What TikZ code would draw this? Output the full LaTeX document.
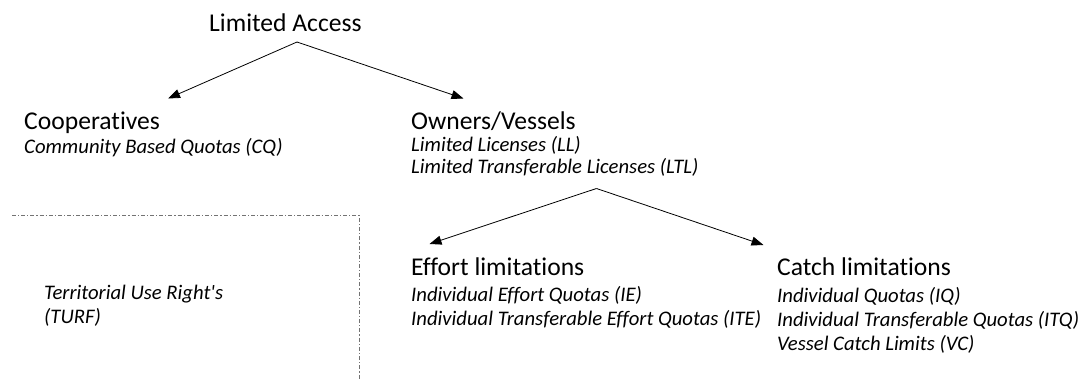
\documentclass[tikz,border=0pt]{standalone}
\usepackage{fontspec}
\setmainfont{Carlito}[Ligatures={NoCommon,NoContextual}]
\usetikzlibrary{arrows.meta}
\tikzset{
  head/.style={anchor=base west,inner sep=0pt,font=\fontsize{25.6}{28}\selectfont},
  sub/.style={anchor=base west,inner sep=0pt,font=\fontsize{20.7}{23}\selectfont\itshape},
  link/.style={-{Triangle[length=12pt,width=9pt]},line width=0.8pt},
  turf/.style={draw=black!55,line width=1pt,dash pattern=on 4pt off 2pt on 1.2pt off 2pt}
}
\begin{document}
\begin{tikzpicture}[x=1pt,y=-1pt]
\useasboundingbox (0,0) rectangle (1081,379);
\node[head] (access) at (209,32) {Limited Access};
\node[head] (coop) at (24,130) {Cooperatives};
\node[sub] (cq) at (24,153.5) {Community Based Quotas (CQ)};
\node[head] (owners) at (411,129.5) {Owners/Vessels};
\node[sub] (ll) at (411,151.5) {Limited Licenses (LL)};
\node[sub] (ltl) at (411,174) {Limited Transferable Licenses (LTL)};
\node[head] (effort) at (411,276) {Effort limitations};
\node[sub] (ie) at (411,301.5) {Individual Effort Quotas (IE)};
\node[sub] (ite) at (411,325.5) {Individual Transferable Effort Quotas (ITE)};
\node[head] (catch) at (777,275.5) {Catch limitations};
\node[sub] (iq) at (777,302.5) {Individual Quotas (IQ)};
\node[sub] (itq) at (777,326.5) {Individual Transferable Quotas (ITQ)};
\node[sub] (vc) at (777,350.5) {Vessel Catch Limits (VC)};
\node[sub] (turf1) at (44,299.5) {Territorial Use Right\textquotesingle s};
\node[sub] (turf2) at (44,323) {(TURF)};
\coordinate (A) at (297,42);
\coordinate (B) at (168,98.5);
\coordinate (C) at (463.5,98.5);
\coordinate (D) at (596.5,188.5);
\coordinate (E) at (429.5,244);
\coordinate (F) at (763.5,245);
\draw[link] (A) -- (B);
\draw[link] (A) -- (C);
\draw[link] (D) -- (E);
\draw[link] (D) -- (F);
\draw[turf] (12,215.5) -- (359,215.5) -- (359,379);
\end{tikzpicture}
\end{document}
